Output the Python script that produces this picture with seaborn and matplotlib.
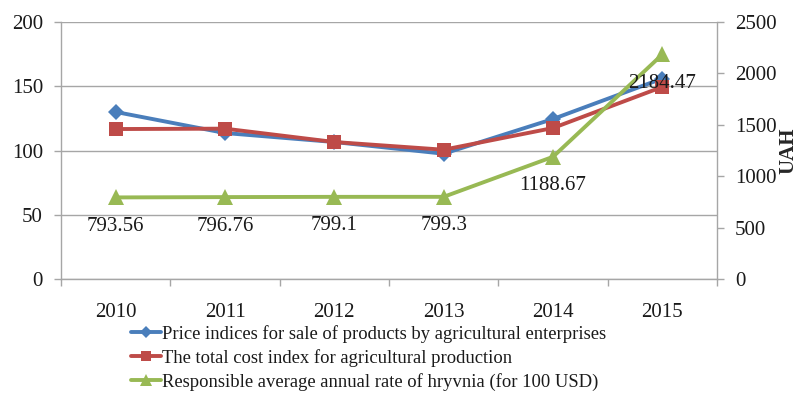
import matplotlib
matplotlib.use("Agg")
import matplotlib.pyplot as plt
import seaborn as sns
import pandas as pd

years = ["2010", "2011", "2012", "2013", "2014", "2015"]
price_index = [130.0, 113.6, 106.6, 97.5, 124.5, 156.0]
cost_index = [116.7, 117.0, 106.6, 100.6, 117.5, 149.5]
hryvnia_rate = [793.56, 796.76, 799.1, 799.3, 1188.67, 2184.47]
rate_labels = ["793.56", "796.76", "799.1", "799.3", "1188.67", "2184.47"]

label_price = "Price indices for sale of products by agricultural enterprises"
label_cost = "The total cost index for agricultural production"
label_rate = "Responsible average annual rate of hryvnia (for 100 USD)"

BLUE = "#4A7EBB"
RED = "#BE4B48"
GREEN = "#98B954"
GRID = "#A6A6A6"
TEXT = "#1a1a1a"

sns.set_theme(style="white")
plt.rcParams["font.family"] = ["Liberation Serif", "DejaVu Serif"]
plt.rcParams["font.size"] = 15
plt.rcParams["text.color"] = TEXT
plt.rcParams["xtick.color"] = TEXT
plt.rcParams["ytick.color"] = TEXT

pos = list(range(len(years)))
df_left = pd.DataFrame({"pos": pos, "price": price_index, "cost": cost_index})
df_right = pd.DataFrame({"pos": pos, "rate": hryvnia_rate})

fig = plt.figure(figsize=(7.97, 3.93), dpi=100)
ax = fig.add_axes([61 / 797, 1 - 279 / 393, (717 - 61) / 797, (279 - 22) / 393])
ax2 = ax.twinx()

sns.lineplot(data=df_left, x="pos", y="price", ax=ax, color=BLUE, lw=2.8,
             marker="D", markersize=8, markeredgewidth=0, label=label_price, legend=False)
sns.lineplot(data=df_left, x="pos", y="cost", ax=ax, color=RED, lw=2.8,
             marker="s", markersize=10, markeredgewidth=0, label=label_cost, legend=False)
sns.lineplot(data=df_right, x="pos", y="rate", ax=ax2, color=GREEN, lw=2.8,
             marker="^", markersize=11, markeredgewidth=0, label=label_rate, legend=False)

# value labels for the exchange rate, placed under each point
for x, v, t in zip(pos, hryvnia_rate, rate_labels):
    ax2.annotate(t, (x, v), xytext=(0, -29), textcoords="offset pixels",
                 ha="center", va="center", fontsize=15, color=TEXT)

ax.set_xlim(-0.5, len(years) - 0.5)
ax.set_ylim(0, 200)
ax.set_yticks([0, 50, 100, 150, 200])
ax2.set_ylim(0, 2500)
ax2.set_yticks([0, 500, 1000, 1500, 2000, 2500])

ax.set_xticks(pos)
ax.set_xticklabels(years)
ax.set_xticks([p - 0.5 for p in pos] + [len(years) - 0.5], minor=True)
ax.tick_params(axis="x", which="major", length=0, pad=17, labelsize=15)
ax.tick_params(axis="x", which="minor", length=5, color=GRID, width=1, direction="out", bottom=True)
ax.tick_params(axis="y", length=5, color=GRID, width=1, direction="out", left=True, labelsize=15, pad=8)
ax2.tick_params(axis="y", length=5, color=GRID, width=1, direction="out", right=True, labelsize=15, pad=8)

ax.grid(axis="y", color=GRID, lw=1)
ax.grid(axis="x", visible=False)
ax2.grid(False)
ax.set_xlabel("")
ax.set_ylabel("")
ax2.set_ylabel("UAH", fontweight="bold", fontsize=15, labelpad=1)

for a in (ax, ax2):
    a.spines["top"].set_visible(False)
    for s in ("left", "right", "bottom"):
        a.spines[s].set_color(GRID)
        a.spines[s].set_linewidth(1)
ax.spines["right"].set_visible(False)
ax2.spines["left"].set_visible(False)
ax2.spines["bottom"].set_visible(False)

h1, l1 = ax.get_legend_handles_labels()
h2, l2 = ax2.get_legend_handles_labels()
fig.legend(h1 + h2, l1 + l2, loc="upper left", bbox_to_anchor=(131 / 797, 1 - 325 / 393),
           frameon=False, fontsize=13.4, handlelength=1.6, handletextpad=0.05,
           labelspacing=0.33, borderpad=0, borderaxespad=0, markerscale=0.75)

fig.savefig("out.png", dpi=100)
